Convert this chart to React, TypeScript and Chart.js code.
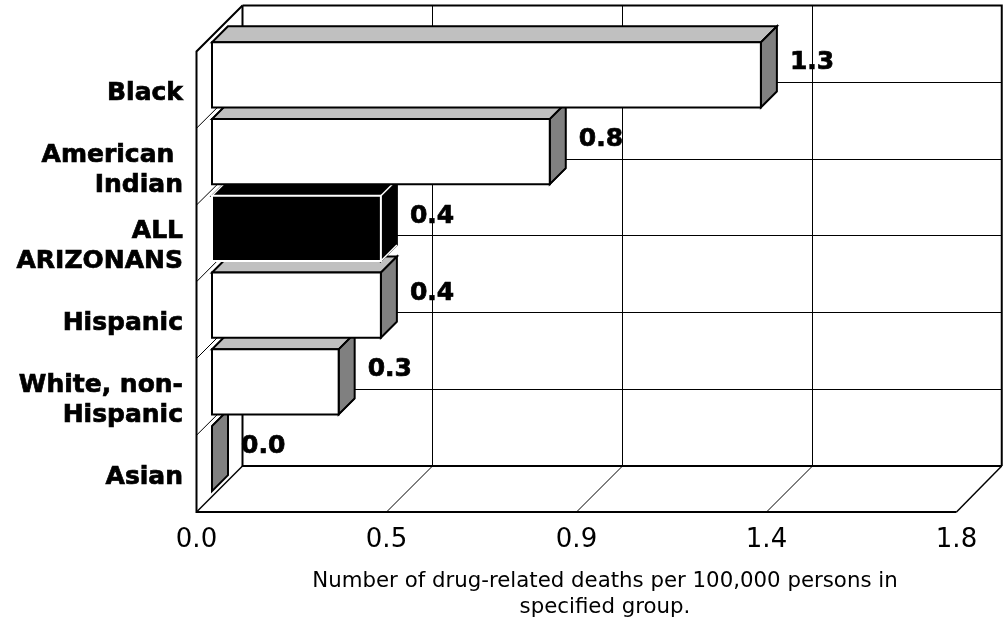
import React, { useEffect, useRef } from "react";
import { Chart, registerables } from "chart.js";

Chart.register(...registerables);

const categories: (string | string[])[] = [
  "Black",
  ["American ", "Indian"],
  ["ALL", "ARIZONANS"],
  "Hispanic",
  ["White, non-", "Hispanic"],
  "Asian",
];
const values = [1.3, 0.8, 0.4, 0.4, 0.3, 0.0];
const valueLabels = ["1.3", "0.8", "0.4", "0.4", "0.3", "0.0"];
const frontColors = ["#ffffff", "#ffffff", "#000000", "#ffffff", "#ffffff", "#ffffff"];
const topColors = ["#c0c0c0", "#c0c0c0", "#000000", "#c0c0c0", "#c0c0c0", "#c0c0c0"];
const sideColors = ["#808080", "#808080", "#000000", "#808080", "#808080", "#808080"];
const edgeColors = ["#000000", "#000000", "#ffffff", "#000000", "#000000", "#000000"];
const xTickValues = [0, 0.45, 0.9, 1.35, 1.8];
const xTickLabels = ["0.0", "0.5", "0.9", "1.4", "1.8"];
const axisTitleLines = [
  "Number of drug-related deaths per 100,000 persons in",
  "specified group.",
];

const FONT = '"DejaVu Sans", Verdana, sans-serif';
const WALL = 46;
const BAR_SHIFT_X = 15.5;
const BAR_SHIFT_Y = 15;
const BAR_DEPTH = 16;

const crisp = (v: number) => Math.floor(v) + 0.5;

const line = (ctx: CanvasRenderingContext2D, pts: number[][], w: number, color = "#000") => {
  ctx.beginPath();
  pts.forEach((p, i) => (i ? ctx.lineTo(p[0], p[1]) : ctx.moveTo(p[0], p[1])));
  ctx.lineWidth = w;
  ctx.strokeStyle = color;
  ctx.stroke();
};

const poly = (ctx: CanvasRenderingContext2D, pts: number[][], fill: string, w: number, stroke = "#000") => {
  ctx.beginPath();
  pts.forEach((p, i) => (i ? ctx.lineTo(p[0], p[1]) : ctx.moveTo(p[0], p[1])));
  ctx.closePath();
  ctx.fillStyle = fill;
  ctx.fill();
  ctx.lineWidth = w;
  ctx.strokeStyle = stroke;
  ctx.lineJoin = "miter";
  ctx.stroke();
};

const threeD = {
  id: "threeD",
  beforeDatasetsDraw(chart: any) {
    const { ctx, chartArea: a, scales } = chart;
    const x = scales.x;
    const n = categories.length;
    const rowH = (a.bottom - a.top) / n;
    const backRight = a.right + WALL - 0.75;
    ctx.save();
    for (let i = 1; i < n; i++) {
      const y = a.top + i * rowH;
      const by = crisp(y - WALL);
      line(ctx, [[a.left, y], [a.left + WALL, by]], 1);
      line(ctx, [[a.left + WALL, by], [backRight, by]], 1);
    }
    xTickValues.forEach((v, i) => {
      const px = x.getPixelForValue(v);
      if (i > 0 && i < xTickValues.length - 1) {
        const bx = crisp(px + WALL);
        line(ctx, [[px, a.bottom], [bx, a.bottom - WALL]], 1);
        line(ctx, [[bx, a.bottom - WALL], [bx, a.top - WALL]], 1);
      }
    });
    line(ctx, [[a.right, a.bottom], [backRight, a.bottom - WALL]], 1.5);
    line(ctx, [[a.left + WALL, a.top - WALL], [backRight, a.top - WALL], [backRight, a.bottom - WALL]], 2);
    line(ctx, [[a.left + WALL, a.top - WALL], [a.left + WALL, a.bottom - WALL], [backRight, a.bottom - WALL]], 2);
    line(ctx, [[a.left + WALL, a.top - WALL], [a.left, a.top], [a.left, a.bottom], [a.right, a.bottom]], 2);
    line(ctx, [[a.left, a.bottom], [a.left + WALL, a.bottom - WALL]], 1.5);
    ctx.restore();
  },
  beforeDatasetDraw(chart: any, args: any) {
    const { ctx } = chart;
    const meta = chart.getDatasetMeta(args.index);
    ctx.save();
    ctx.translate(BAR_SHIFT_X, -BAR_SHIFT_Y);
    for (let i = meta.data.length - 1; i >= 0; i--) {
      const el = meta.data[i];
      const half = el.height / 2;
      const l = el.base;
      const r = el.x;
      const t = el.y - half;
      const b = el.y + half;
      const d = BAR_DEPTH;
      poly(ctx, [[l, t], [l + d, t - d], [r + d, t - d], [r, t]], topColors[i], 2);
      poly(ctx, [[r, t], [r + d, t - d], [r + d, b - d], [r, b]], sideColors[i], 2);
      if (r > l) {
        poly(ctx, [[l, t], [r, t], [r, b], [l, b]], frontColors[i], 2, edgeColors[i]);
        line(ctx, [[l, t], [l + d, t - d]], 1.5, edgeColors[i]);
        line(ctx, [[r, t], [r + d, t - d]], 1.5, edgeColors[i]);
        line(ctx, [[r, b], [r + d, b - d]], 1.5, edgeColors[i]);
      }
    }
    ctx.restore();
    return false;
  },
  afterDatasetsDraw(chart: any) {
    const { ctx } = chart;
    const meta = chart.getDatasetMeta(0);
    ctx.save();
    ctx.fillStyle = "#000";
    ctx.strokeStyle = "#000";
    ctx.lineWidth = 0.7;
    ctx.textBaseline = "middle";
    ctx.textAlign = "left";
    ctx.font = `bold 25px ${FONT}`;
    meta.data.forEach((el: any, i: number) => {
      ctx.fillText(valueLabels[i], el.x + 44.5, el.y - 27);
      ctx.strokeText(valueLabels[i], el.x + 44.5, el.y - 27);
    });
    ctx.font = `21.3px ${FONT}`;
    ctx.textAlign = "center";
    axisTitleLines.forEach((t, i) => {
      ctx.fillText(t, 605, 581 + i * 26);
    });
    ctx.restore();
  },
};

export default function App() {
  const ref = useRef<HTMLCanvasElement>(null);
  useEffect(() => {
    const chart = new Chart(ref.current as HTMLCanvasElement, {
      type: "bar",
      data: {
        labels: categories as any,
        datasets: [
          {
            data: values,
            backgroundColor: frontColors,
            borderColor: edgeColors,
            borderWidth: 2,
            categoryPercentage: 1,
            barPercentage: 0.848,
            clip: false as any,
          },
        ],
      },
      options: {
        indexAxis: "y",
        responsive: false,
        animation: false,
        layout: { padding: { top: 51.5, right: 46.5, left: 0, bottom: 0 } },
        plugins: { legend: { display: false }, tooltip: { enabled: false }, title: { display: false } },
        scales: {
          x: {
            type: "linear",
            min: 0,
            max: 1.8,
            afterFit: (s: any) => {
              s.height = 108;
            },
            afterBuildTicks: (s: any) => {
              s.ticks = xTickValues.map((value) => ({ value }));
            },
            grid: { display: false, drawTicks: false },
            border: { display: false },
            ticks: {
              padding: 13,
              color: "#000",
              maxRotation: 0,
              autoSkip: false,
              font: { family: FONT, size: 26 },
              callback: (_v: any, i: number) => xTickLabels[i],
            },
          },
          y: {
            type: "category",
            afterFit: (s: any) => {
              s.width = 196.5;
            },
            grid: { display: false, drawTicks: false },
            border: { display: false },
            ticks: {
              padding: 13.5,
              color: "#000",
              autoSkip: false,
              labelOffset: 3.5,
              textStrokeColor: "#000",
              textStrokeWidth: 0.7,
              font: { family: FONT, size: 25, weight: "bold", lineHeight: 1.2 },
            },
          },
        },
      },
      plugins: [threeD as any],
    });
    return () => chart.destroy();
  }, []);
  return (
    <div style={{ position: "absolute", left: 0, top: 0, width: 1003, height: 620, background: "#fff" }}>
      <canvas ref={ref} width={1003} height={620} style={{ display: "block" }} />
    </div>
  );
}
